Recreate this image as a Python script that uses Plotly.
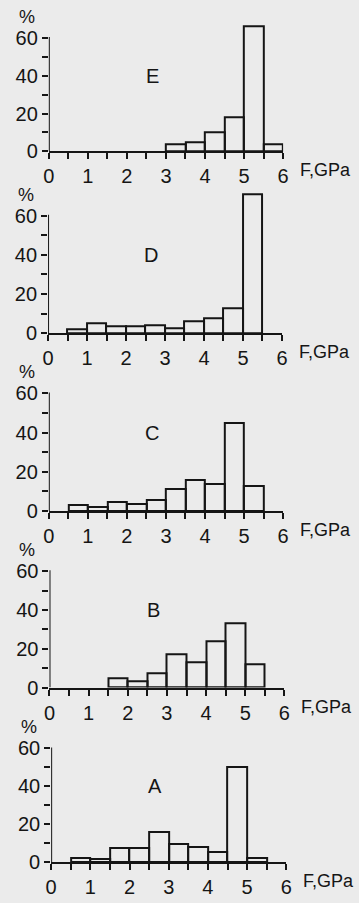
import plotly.graph_objects as go

# ---- data (percent of fibres per 0.5 GPa strength bin; bins given by left edge) ----
panel_names = ["E", "D", "C", "B", "A"]

E_left = [3.0, 3.5, 4.0, 4.5, 5.0, 5.5]
E_pct = [4, 5, 10, 18, 66, 4]

D_left = [0.5, 1.0, 1.5, 2.0, 2.5, 3.0, 3.5, 4.0, 4.5, 5.0]
D_pct = [2, 5, 3.5, 3.5, 4, 2.5, 6, 7.5, 12.5, 71]

C_left = [0.5, 1.0, 1.5, 2.0, 2.5, 3.0, 3.5, 4.0, 4.5, 5.0]
C_pct = [3, 1.8, 4.5, 3.5, 5.5, 11, 16, 14, 45, 12.5]

B_left = [1.5, 2.0, 2.5, 3.0, 3.5, 4.0, 4.5, 5.0]
B_pct = [5, 3.4, 7.5, 17, 13, 24, 33, 12]

A_left = [0.5, 1.0, 1.5, 2.0, 2.5, 3.0, 3.5, 4.0, 4.5, 5.0]
A_pct = [2.3, 1.4, 7.5, 7.5, 16, 9.5, 8, 5.5, 50, 2.3]

bin_width = 0.5
x_tickvals = [0, 0.5, 1, 1.5, 2, 2.5, 3, 3.5, 4, 4.5, 5, 5.5, 6]
x_ticktext = ["0", "", "1", "", "2", "", "3", "", "4", "", "5", "", "6"]
y_tickvals = [0, 10, 20, 30, 40, 50, 60]
y_ticktext = ["0", "", "20", "", "40", "", "60"]
x_unit = "F,GPa"
y_unit = "%"

series = {"E": (E_left, E_pct), "D": (D_left, D_pct), "C": (C_left, C_pct),
          "B": (B_left, B_pct), "A": (A_left, A_pct)}

# ---- layout geometry (pixels in 359x903 page) ----
W, H = 359, 903
# x pixel of F=0 and F=6, y pixel of 0% and 60%
geom = {
    "E": (44.3, 286.7, 153.3, 38.3),
    "D": (43.5, 285.5, 337.3, 218.3),
    "C": (44.3, 286.7, 517.3, 398.3),
    "B": (45.0, 288.0, 696.0, 578.3),
    "A": (46.7, 290.0, 872.7, 757.7),
}
YMAX = 74
BG = "#ebebeb"
INK = "#151515"
FONT = dict(family="Liberation Sans, Arial, sans-serif", size=20, color=INK)
UNIT_FONT = dict(family="Liberation Sans, Arial, sans-serif", size=18, color=INK)

fig = go.Figure()
layout = dict(
    width=W, height=H, margin=dict(l=0, r=0, t=0, b=0),
    paper_bgcolor=BG, plot_bgcolor=BG, showlegend=False, font=FONT,
    bargap=0,
)
shapes = []
annotations = []

for i, name in enumerate(panel_names):
    k = "" if i == 0 else str(i + 1)
    xa, ya = "x" + k, "y" + k
    x0p, x6p, y0p, y60p = geom[name]
    pp = (y0p - y60p) / 60.0
    left, pct = series[name]
    centers = [l + bin_width / 2 for l in left]
    fig.add_trace(go.Bar(
        x=centers, y=pct, width=[bin_width] * len(centers),
        xaxis=xa, yaxis=ya,
        marker=dict(color="rgba(0,0,0,0)", line=dict(color=INK, width=2)),
        cliponaxis=False, hoverinfo="skip",
    ))
    layout["xaxis" + k] = dict(
        domain=[x0p / W, x6p / W], range=[0, 6], anchor=ya,
        showgrid=False, zeroline=False, showline=True, linecolor=INK, linewidth=2,
        ticks="outside", ticklen=6, tickwidth=2, tickcolor=INK,
        tickmode="array", tickvals=x_tickvals, ticktext=x_ticktext,
        tickfont=FONT, fixedrange=True,
    )
    layout["yaxis" + k] = dict(
        domain=[1 - y0p / H, 1 - (y0p - YMAX * pp) / H], range=[0, YMAX], anchor=xa,
        showgrid=False, zeroline=False, showline=False,
        ticks="outside", ticklen=6, tickwidth=2, tickcolor=INK,
        tickmode="array", tickvals=y_tickvals, ticktext=y_ticktext,
        tickfont=FONT, fixedrange=True,
    )
    # y axis line only from 0 to 60 %
    shapes.append(dict(type="line", xref=xa, yref=ya, x0=0, x1=0, y0=0, y1=60.5,
                       line=dict(color=INK, width=2)))
    # panel letter
    annotations.append(dict(xref=xa, yref=ya, x=2.65, y=40, text=name,
                            showarrow=False, font=FONT))
    # unit of y
    annotations.append(dict(xref=xa, yref=ya, x=0, y=60, text=y_unit, showarrow=False,
                            xshift=-22, yshift=21, font=UNIT_FONT))
    # unit of x
    annotations.append(dict(xref=xa, yref=ya, x=6, y=0, text=x_unit, showarrow=False,
                            xanchor="left", yanchor="middle", xshift=15, yshift=-19,
                            font=UNIT_FONT))

layout["shapes"] = shapes
layout["annotations"] = annotations
fig.update_layout(**layout)
fig.write_html("out.html")
